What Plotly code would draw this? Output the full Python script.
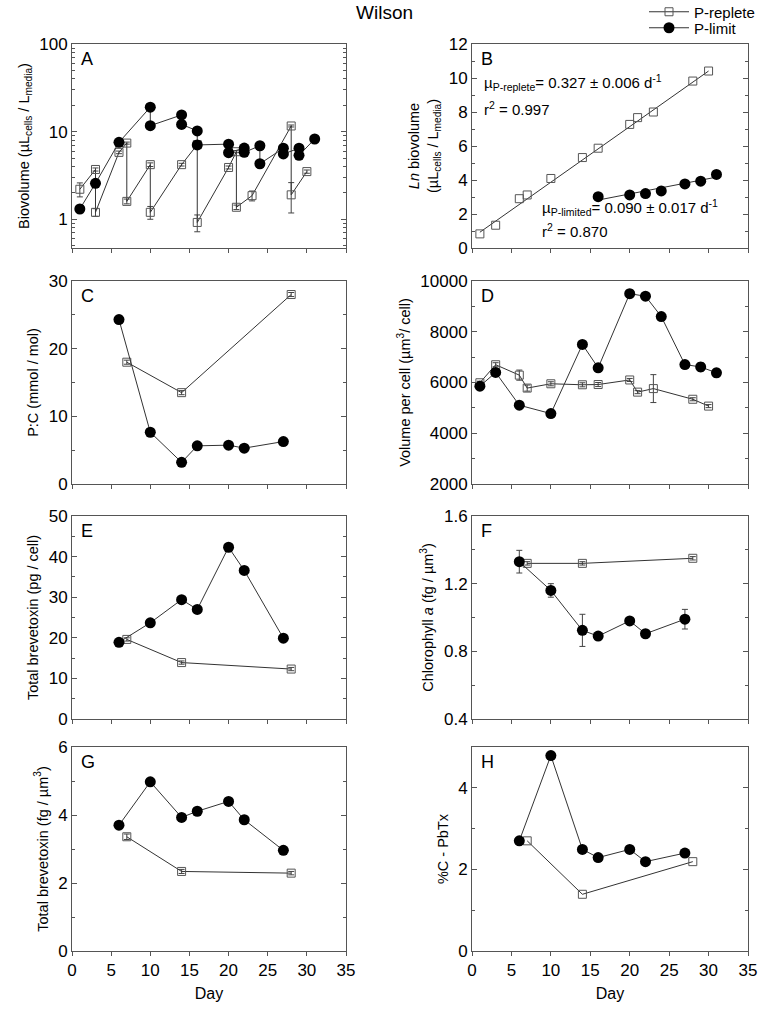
import plotly.graph_objects as go
import numpy as np

# ---------------- DATA ----------------
# Panel A: biovolume (log)
a_rep_day = [1, 3, 3, 6, 7, 7, 10, 10, 14, 16, 16, 20, 21, 21, 23, 28, 28, 30]
a_rep_val = [2.2, 3.7, 1.2, 5.8, 7.4, 1.6, 4.2, 1.2, 4.2, 7.1, 0.92, 3.9, 5.9, 1.37, 1.86, 11.6, 1.9, 3.5]
a_rep_err = [0.4, 0.15, 0.12, 0.2, 0.2, 0.1, 0.2, 0.2, 0.15, 0.0, 0.2, 0.15, 0.15, 0.08, 0.24, 0.3, 0.72, 0.15]
a_lim_day = [1, 3, 6, 10, 10, 14, 14, 16, 16, 20, 20, 22, 22, 24, 24, 27, 27, 29, 29, 31]
a_lim_val = [1.31, 2.57, 7.55, 19.0, 11.7, 15.5, 12.1, 10.2, 7.05, 7.2, 5.75, 6.5, 5.8, 6.9, 4.3, 6.46, 5.56, 6.46, 5.37, 8.24]

# Panel B: ln biovolume + fits
b_rep_day = [1, 3, 6, 7, 10, 14, 16, 20, 21, 23, 28, 30]
b_rep_val = [0.83, 1.34, 2.9, 3.12, 4.09, 5.32, 5.87, 7.27, 7.67, 8.0, 9.82, 10.41]
b_lim_day = [16, 20, 22, 24, 27, 29, 31]
b_lim_val = [3.02, 3.12, 3.2, 3.36, 3.77, 3.93, 4.33]
fit_rep = {"slope": 0.327, "intercept": 0.60, "days": [1, 30]}
fit_lim = {"slope": 0.090, "intercept": 1.38, "days": [16, 31]}

# Panel C: P:C
c_rep_day = [7, 14, 28]
c_rep_val = [18.0, 13.5, 28.0]
c_lim_day = [6, 10, 14, 16, 20, 22, 27]
c_lim_val = [24.3, 7.65, 3.2, 5.64, 5.74, 5.3, 6.27]

# Panel D: volume per cell
d_rep_day = [1, 3, 6, 7, 10, 14, 16, 20, 21, 23, 28, 30]
d_rep_val = [5990, 6700, 6290, 5780, 5950, 5910, 5920, 6100, 5620, 5760, 5340, 5070]
d_rep_err = [60, 80, 200, 120, 80, 80, 80, 60, 60, 550, 60, 60]
d_lim_day = [1, 3, 6, 10, 14, 16, 20, 22, 24, 27, 29, 31]
d_lim_val = [5855, 6395, 5105, 4775, 7500, 6580, 9500, 9400, 8600, 6706, 6614, 6380]
d_lim_err = [60, 80, 60, 60, 60, 60, 160, 100, 130, 60, 170, 160]

# Panel E: total brevetoxin per cell
e_rep_day = [7, 14, 28]
e_rep_val = [19.6, 13.9, 12.3]
e_lim_day = [6, 10, 14, 16, 20, 22, 27]
e_lim_val = [18.9, 23.7, 29.4, 27.0, 42.3, 36.6, 19.9]

# Panel F: chlorophyll a
f_rep_day = [7, 14, 28]
f_rep_val = [1.32, 1.32, 1.35]
f_lim_day = [6, 10, 14, 16, 20, 22, 27]
f_lim_val = [1.33, 1.16, 0.924, 0.89, 0.98, 0.904, 0.99]
f_lim_err = [0.067, 0.04, 0.095, 0.0, 0.0, 0.02, 0.058]

# Panel G: total brevetoxin per volume
g_rep_day = [7, 14, 28]
g_rep_val = [3.36, 2.34, 2.29]
g_lim_day = [6, 10, 14, 16, 20, 22, 27]
g_lim_val = [3.70, 4.975, 3.93, 4.11, 4.40, 3.86, 2.96]

# Panel H: %C - PbTx
h_rep_day = [7, 14, 28]
h_rep_val = [2.70, 1.39, 2.19]
h_lim_day = [6, 10, 14, 16, 20, 22, 27]
h_lim_val = [2.70, 4.79, 2.49, 2.29, 2.49, 2.19, 2.40]

legend_names = ["P-replete", "P-limit"]

# ---------------- STYLE ----------------
FONT = "Liberation Sans, Arial, sans-serif"
LINE_C = "#333333"
AX_C = "#555555"
W, H = 768, 1013
XL = [72 / W, 346 / W]
XR = [472 / W, 748 / W]
ROWS = [(44, 248), (281, 484), (516, 719), (747, 951)]


def ydom(t, b):
    return [1 - b / H, 1 - t / H]


rep_marker = dict(symbol="square-open", size=8, color="#555555", line=dict(width=1, color="#555555"))
lim_marker = dict(symbol="circle", size=11, color="black")

fig = go.Figure()


def add(i, day, val, kind, err=None, mode="lines+markers", showlegend=False):
    marker = rep_marker if kind == 0 else lim_marker
    tr = dict(
        x=day, y=val, mode=mode, marker=marker,
        line=dict(color=LINE_C, width=1),
        xaxis=f"x{i}", yaxis=f"y{i}",
        name=legend_names[kind], legend="legend" if kind == 0 else "legend2",
        showlegend=showlegend, hoverinfo="x+y",
    )
    if err is not None:
        tr["error_y"] = dict(type="data", array=err, visible=True, color="#444444", thickness=1, width=3)
    fig.add_trace(go.Scatter(**tr))


# A
add(1, a_rep_day, a_rep_val, 0, err=a_rep_err, showlegend=True)
add(1, a_lim_day, a_lim_val, 1, showlegend=True)
# B
for fit in (fit_rep, fit_lim):
    fx = np.array(fit["days"], dtype=float)
    fy = fit["intercept"] + fit["slope"] * fx
    fig.add_trace(go.Scatter(x=fx, y=fy, mode="lines", line=dict(color=LINE_C, width=1),
                             xaxis="x2", yaxis="y2", showlegend=False, hoverinfo="skip"))
add(2, b_rep_day, b_rep_val, 0, mode="markers")
add(2, b_lim_day, b_lim_val, 1, mode="markers")
# C
add(3, c_rep_day, c_rep_val, 0, err=[0.3, 0.3, 0.3])
add(3, c_lim_day, c_lim_val, 1)
# D
add(4, d_rep_day, d_rep_val, 0, err=d_rep_err)
add(4, d_lim_day, d_lim_val, 1, err=d_lim_err)
# E
add(5, e_rep_day, e_rep_val, 0, err=[0.4, 0.4, 0.4])
add(5, e_lim_day, e_lim_val, 1)
# F
add(6, f_rep_day, f_rep_val, 0, err=[0.01, 0.01, 0.01])
add(6, f_lim_day, f_lim_val, 1, err=f_lim_err)
# G
add(7, g_rep_day, g_rep_val, 0, err=[0.08, 0.06, 0.05])
add(7, g_lim_day, g_lim_val, 1)
# H
add(8, h_rep_day, h_rep_val, 0)
add(8, h_lim_day, h_lim_val, 1)

# ---------------- AXES ----------------
tickfont = dict(family=FONT, size=17, color="black")
titlefont = dict(family=FONT, size=14.5, color="black")

yspecs = {
    1: dict(type="log", range=[np.log10(0.47), 2], tickvals=[1, 10, 100], ticktext=["1", "10", "100"],
            minor=dict(ticks="inside", ticklen=3, tickcolor=AX_C,
                       tickvals=[0.5, 0.6, 0.7, 0.8, 0.9, 2, 3, 4, 5, 6, 7, 8, 9,
                                 20, 30, 40, 50, 60, 70, 80, 90]),
            title="Biovolume (µL<sub>cells</sub> / L<sub>media</sub>)"),
    2: dict(range=[0, 12], dtick=2, minor=dict(ticks="inside", ticklen=3, dtick=1, tickcolor=AX_C),
            title="<i>Ln</i> biovolume<br>(µL<sub>cells</sub> / L<sub>media</sub>)"),
    3: dict(range=[0, 30], dtick=10, minor=dict(ticks="inside", ticklen=3, dtick=5, tickcolor=AX_C),
            title="P:C (mmol / mol)"),
    4: dict(range=[2000, 10000], dtick=2000, tickformat="d",
            minor=dict(ticks="inside", ticklen=3, dtick=1000, tickcolor=AX_C),
            title="Volume per cell (µm<sup>3</sup>/ cell)"),
    5: dict(range=[0, 50], dtick=10, minor=dict(ticks="inside", ticklen=3, dtick=5, tickcolor=AX_C),
            title="Total brevetoxin (pg / cell)"),
    6: dict(range=[0.4, 1.6], tick0=0.4, dtick=0.4, tickformat=".1f",
            minor=dict(ticks="inside", ticklen=3, dtick=0.2, tickcolor=AX_C),
            title="Chlorophyll <i>a</i> (fg / µm<sup>3</sup>)"),
    7: dict(range=[0, 6], dtick=2, minor=dict(ticks="inside", ticklen=3, dtick=1, tickcolor=AX_C),
            title="Total brevetoxin (fg / µm<sup>3</sup>)"),
    8: dict(range=[0, 5], dtick=2, minor=dict(ticks="inside", ticklen=3, dtick=1, tickcolor=AX_C),
            title="%C - PbTx"),
}

leg_common = dict(x=644 / W, xanchor="left", yanchor="middle",
                  bgcolor="rgba(0,0,0,0)", font=dict(family=FONT, size=15, color="black"),
                  itemwidth=40, borderwidth=0)

layout = dict(
    width=W, height=H, margin=dict(l=0, r=0, t=0, b=0, autoexpand=False),
    paper_bgcolor="white", plot_bgcolor="white",
    font=dict(family=FONT, size=14, color="black"),
    showlegend=True,
    legend=dict(y=1 - 12 / H, **leg_common),
    legend2=dict(y=1 - 28 / H, **leg_common),
)

letters = "ABCDEFGH"
annotations = []
for i in range(1, 9):
    row = (i - 1) // 2
    col = (i - 1) % 2
    xd = XL if col == 0 else XR
    yd = ydom(*ROWS[row])
    bottom = row == 3
    layout[f"xaxis{i}" if i > 1 else "xaxis"] = dict(
        domain=xd, anchor=f"y{i}", range=[0, 35], tickvals=list(range(0, 36, 5)),
        ticks="outside", ticklen=4, tickcolor=AX_C, showline=True, linecolor=AX_C, linewidth=1,
        mirror=True, showgrid=False, zeroline=False, showticklabels=bottom,
        tickfont=tickfont,
        title=dict(text="Day" if bottom else "", font=dict(family=FONT, size=16, color="black"), standoff=8),
    )
    ys = dict(yspecs[i])
    title = ys.pop("title")
    yax = dict(
        domain=yd, anchor=f"x{i}", ticks="inside", ticklen=5, tickcolor=AX_C,
        showline=True, linecolor=AX_C, linewidth=1, mirror="ticks",
        showgrid=False, zeroline=False, tickfont=tickfont,
        title=dict(text=title, font=titlefont, standoff=6),
    )
    yax.update(ys)
    layout[f"yaxis{i}" if i > 1 else "yaxis"] = yax
    xr = f"x{i} domain" if i > 1 else "x domain"
    yr = f"y{i} domain" if i > 1 else "y domain"
    annotations.append(dict(text=letters[i - 1], x=0.025, y=0.985, xref=xr, yref=yr,
                            xanchor="left", yanchor="top", showarrow=False,
                            font=dict(family=FONT, size=18, color="black")))

# Panel B text
btxt = dict(family=FONT, size=15, color="black")
annotations += [
    dict(text="µ<sub>P-replete</sub>= 0.327 ± 0.006 d<sup>-1</sup>", x=0.035, y=0.81,
         xref="x2 domain", yref="y2 domain", xanchor="left", yanchor="middle", showarrow=False, font=btxt),
    dict(text="r<sup>2</sup> = 0.997", x=0.035, y=0.685, xref="x2 domain", yref="y2 domain",
         xanchor="left", yanchor="middle", showarrow=False, font=btxt),
    dict(text="µ<sub>P-limited</sub>= 0.090 ± 0.017 d<sup>-1</sup>", x=0.245, y=0.2,
         xref="x2 domain", yref="y2 domain", xanchor="left", yanchor="middle", showarrow=False, font=btxt),
    dict(text="r<sup>2</sup> = 0.870", x=0.245, y=0.085, xref="x2 domain", yref="y2 domain",
         xanchor="left", yanchor="middle", showarrow=False, font=btxt),
    dict(text="Wilson", x=0.5, y=1 - 13 / H, xref="paper", yref="paper", xanchor="center",
         yanchor="middle", showarrow=False, font=dict(family=FONT, size=19, color="black")),
]
layout["annotations"] = annotations
fig.update_layout(**layout)
fig.write_html("out.html", config={"displayModeBar": False},
               post_script="document.body.style.margin='0px';")
